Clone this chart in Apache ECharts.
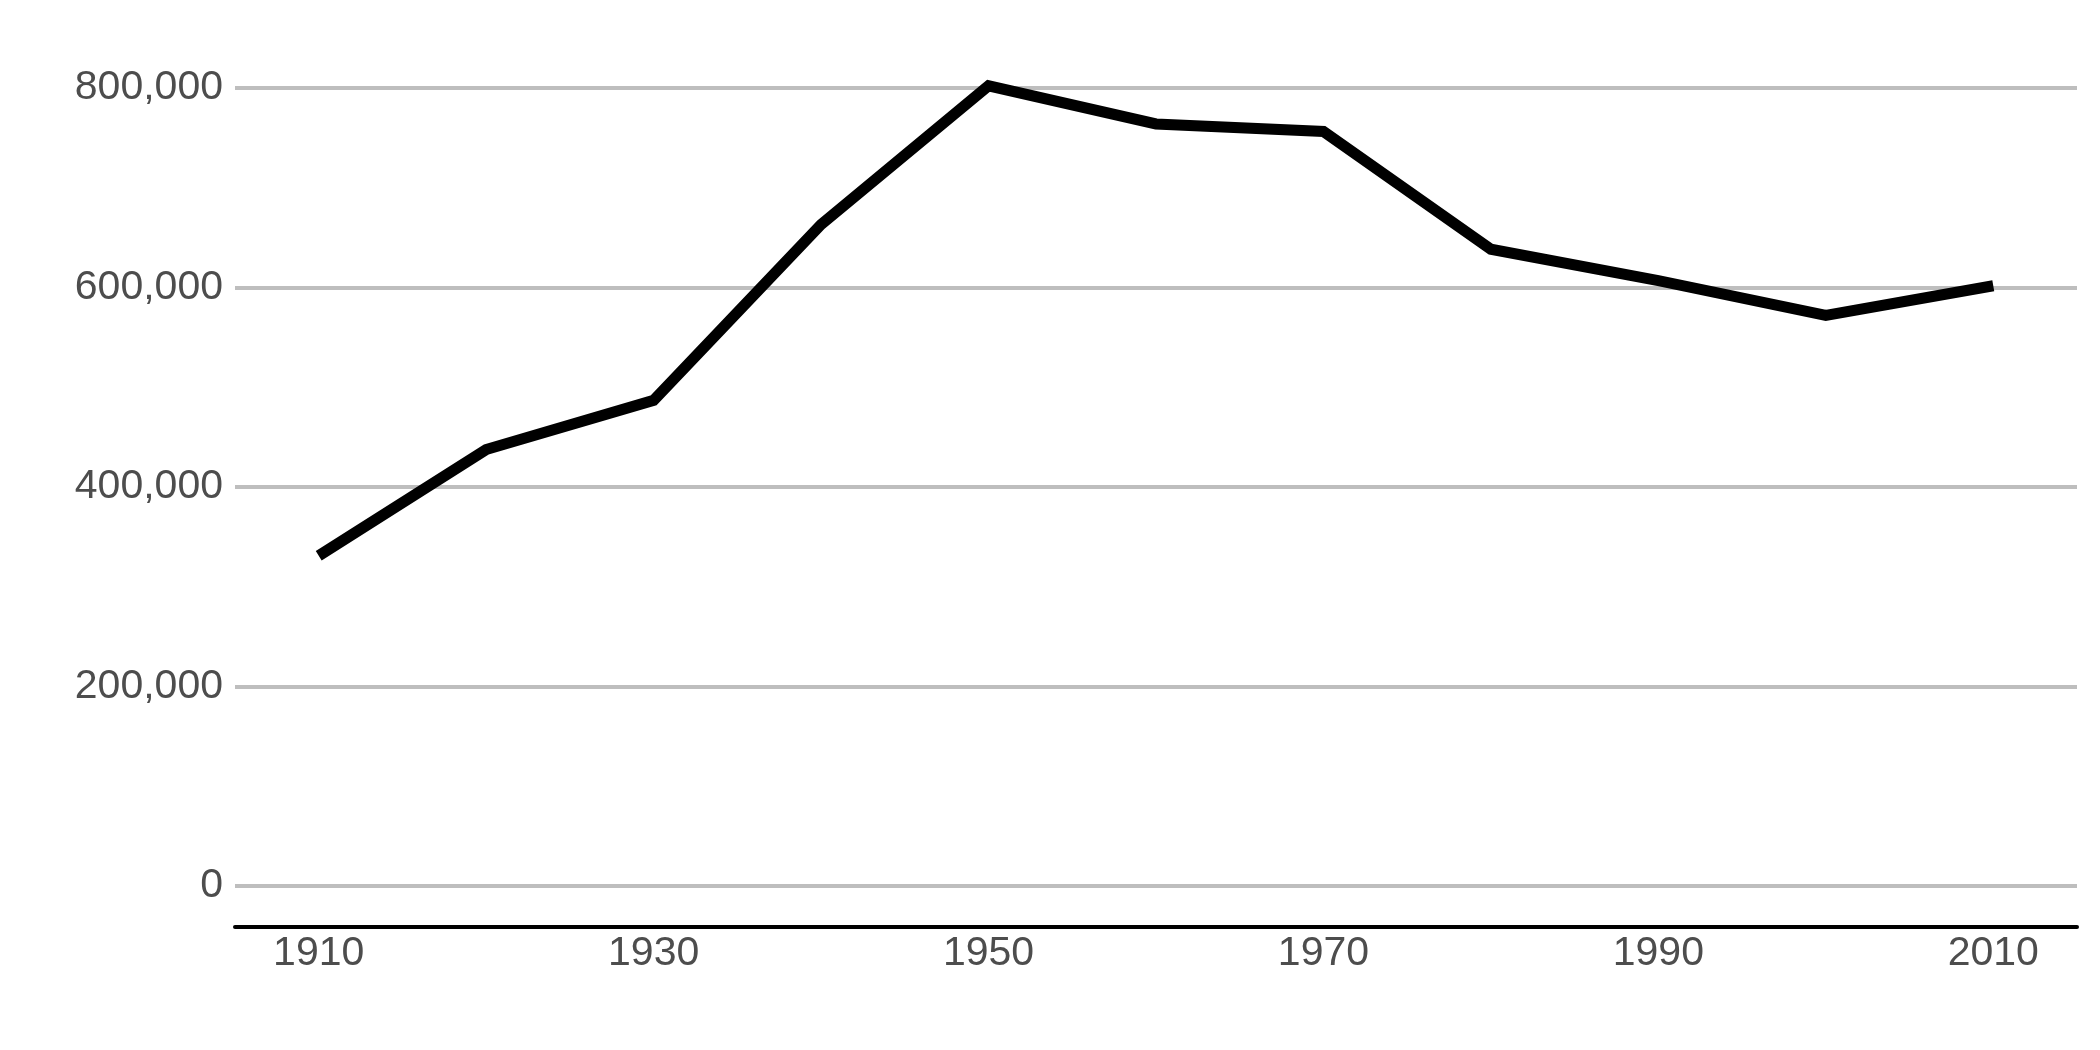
<!DOCTYPE html>
<html>
<head>
<meta charset="utf-8">
<script src="https://cdn.jsdelivr.net/npm/echarts@6/dist/echarts.min.js"></script>
<style>
html,body{margin:0;padding:0;background:#fff;}
#chart{width:2100px;height:1050px;}
</style>
</head>
<body>
<div id="chart"></div>
<script>
const years = ['1910','1920','1930','1940','1950','1960','1970','1980','1990','2000','2010'];
const population = [331069, 437571, 486869, 663091, 802178, 763956, 756510, 638333, 606900, 572059, 601723];
const yTicks = [0, 200000, 400000, 600000, 800000];

const chart = echarts.init(document.getElementById('chart'));
const font = '"Liberation Sans", Arial, sans-serif';
chart.setOption({
  animation: false,
  backgroundColor: '#ffffff',
  grid: {left: 235, right: 23, top: 88, bottom: 164, containLabel: false},
  xAxis: {
    type: 'category',
    data: years,
    boundaryGap: true,
    offset: 41,
    axisLine: {show: true, onZero: false, lineStyle: {color: '#000000', width: 4}},
    axisTick: {show: false},
    splitLine: {show: false},
    axisLabel: {interval: 1, color: '#4d4d4d', fontSize: 41, fontFamily: font, margin: 6}
  },
  yAxis: {
    type: 'value',
    min: yTicks[0],
    max: yTicks[yTicks.length - 1],
    interval: 200000,
    axisLine: {show: false},
    axisTick: {show: false},
    splitLine: {show: true, lineStyle: {color: '#bebebe', width: 4}},
    axisLabel: {
      color: '#4d4d4d', fontSize: 41, fontFamily: font, margin: 12,
      formatter: v => v.toLocaleString('en-US')
    }
  },
  series: [{
    type: 'line',
    data: population,
    clip: false,
    symbol: 'none',
    lineStyle: {color: '#000000', width: 11, cap: 'butt', join: 'miter'}
  }]
});
</script>
</body>
</html>
